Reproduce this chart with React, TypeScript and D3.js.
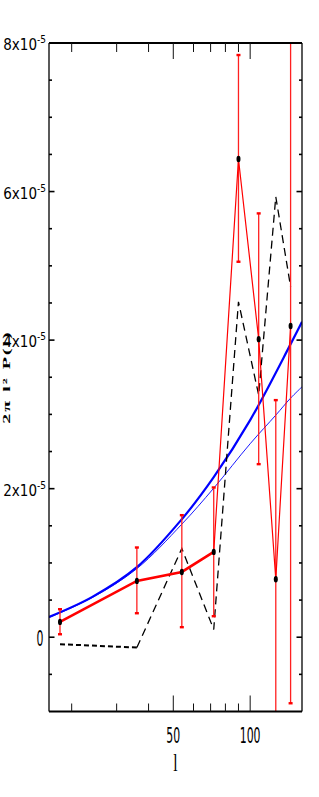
import React from 'react'
import * as d3 from 'd3'

// multipole bins (l) and measured band power, in units of 1e-5
const ells = [18, 36, 54, 72, 90, 108, 126, 144]
const power = [0.206, 0.758, 0.879, 1.149, 6.438, 4.013, 0.781, 4.189]
const errHigh = [0.377, 1.208, 1.643, 2.016, 7.838, 5.706, 3.192, 8.6]
const errLow = [0.04, 0.323, 0.135, 0.283, 5.055, 2.33, -1.5, -0.889]
// dashed model at the same bins
const model = [-0.094, -0.139, 1.194, 0.104, 4.516, 3.259, 5.93, 4.718]

// smooth blue curves
const thickL = [16.3, 24, 36, 54, 72, 100, 144, 159.6]
const thickP = [0.273, 0.54, 0.943, 1.589, 2.155, 2.923, 3.946, 4.246]
const thinL = [16.3, 24, 36, 54, 72, 100, 126, 144, 159.6]
const thinP = [0.263, 0.53, 0.923, 1.522, 2.007, 2.605, 2.99, 3.219, 3.371]

const yMajor = [0, 2, 4, 6, 8]
const yMinor = [-0.5, 0.5, 1, 1.5, 2.5, 3, 3.5, 4.5, 5, 5.5, 6.5, 7, 7.5]
const xMajor = [50, 100]
const xMinor = [20, 30, 40, 60, 70, 80, 90]

const W = 319
const H = 797
const left = 49
const right = 302
const top = 43
const bottom = 711.5

const App = () => {
  const x = d3.scaleLog().domain([16.3, 159.6]).range([left, right])
  const y = d3.scaleLinear().domain([-1, 8]).range([bottom, top])

  const line = d3.line<[number, number]>().x(d => x(d[0])).y(d => y(d[1]))
  const smooth = d3
    .line<[number, number]>()
    .x(d => x(d[0]))
    .y(d => y(d[1]))
    .curve(d3.curveCatmullRom.alpha(0.5))

  const pts = ells.map((l, i) => [l, power[i]] as [number, number])
  const modelPts = ells.map((l, i) => [l, model[i]] as [number, number])
  const thick = thickL.map((l, i) => [l, thickP[i]] as [number, number])
  const thin = thinL.map((l, i) => [l, thinP[i]] as [number, number])

  const narrow = "'Liberation Sans Narrow', 'DejaVu Sans Condensed', sans-serif"

  return (
    <svg width={W} height={H} style={{ position: 'absolute', left: 0, top: 0, background: '#fff' }}>
      <defs>
        <clipPath id="plot">
          <rect x={left} y={top} width={right - left} height={bottom - top} />
        </clipPath>
      </defs>

      <g clipPath="url(#plot)">
        {/* blue curves */}
        <path d={smooth(thin) || ''} fill="none" stroke="#0000ff" strokeWidth={0.9} />
        <path d={smooth(thick) || ''} fill="none" stroke="#0000ff" strokeWidth={2.2} />

        {/* dashed model */}
        <path d={line(modelPts.slice(0, 2)) || ''} fill="none" stroke="#000" strokeWidth={2} strokeDasharray="5,3" />
        <path d={line(modelPts.slice(1)) || ''} fill="none" stroke="#000" strokeWidth={1.3} strokeDasharray="8,5" />

        {/* error bars */}
        {ells.map((l, i) => (
          <g key={'e' + l}>
            <line x1={x(l)} x2={x(l)} y1={y(errHigh[i])} y2={y(errLow[i])} stroke="#ff2020" strokeWidth={1.3} />
            <rect x={x(l) - 2} y={y(errHigh[i]) - 1.2} width={4} height={2.4} fill="#ff0000" />
            <rect x={x(l) - 2} y={y(errLow[i]) - 1.2} width={4} height={2.4} fill="#ff0000" />
          </g>
        ))}

        {/* data lines */}
        <path d={line(pts.slice(3)) || ''} fill="none" stroke="#ff0000" strokeWidth={1.2} />
        <path d={line(pts.slice(0, 4)) || ''} fill="none" stroke="#ff0000" strokeWidth={2.6} />

        {pts.map(p => (
          <ellipse key={'p' + p[0]} cx={x(p[0])} cy={y(p[1])} rx={2} ry={3.2} fill="#000" />
        ))}
      </g>

      {/* frame */}
      <line x1={left} x2={right} y1={top} y2={top} stroke="#000" strokeWidth={2} />
      <line x1={left} x2={right} y1={bottom} y2={bottom} stroke="#000" strokeWidth={2} />
      <line x1={left} x2={left} y1={top} y2={bottom} stroke="#000" strokeWidth={1.3} />
      <line x1={right} x2={right} y1={top} y2={bottom} stroke="#000" strokeWidth={1.3} />

      {/* x ticks */}
      {xMajor.map(t => (
        <g key={'xM' + t} stroke="#111" strokeWidth={1}>
          <line x1={x(t)} x2={x(t)} y1={top} y2={top + 16} />
          <line x1={x(t)} x2={x(t)} y1={bottom} y2={bottom - 16} />
        </g>
      ))}
      {xMinor.map(t => (
        <g key={'xm' + t} stroke="#111" strokeWidth={1}>
          <line x1={x(t)} x2={x(t)} y1={top} y2={top + 9} />
          <line x1={x(t)} x2={x(t)} y1={bottom} y2={bottom - 8} />
        </g>
      ))}

      {/* y ticks */}
      {yMajor.map(t => (
        <g key={'yM' + t} stroke="#000" strokeWidth={1.6}>
          <line x1={left} x2={left + 5.5} y1={y(t)} y2={y(t)} />
          <line x1={right} x2={right - 5.5} y1={y(t)} y2={y(t)} />
        </g>
      ))}
      {yMinor.map(t => (
        <g key={'ym' + t} stroke="#000" strokeWidth={1.6}>
          <line x1={left} x2={left + 3} y1={y(t)} y2={y(t)} />
          <line x1={right} x2={right - 3} y1={y(t)} y2={y(t)} />
        </g>
      ))}

      {/* y tick labels */}
      {yMajor.map(t =>
        t === 0 ? (
          <text key={'yl' + t} transform={`translate(${left - 5.5},${y(t) + 8.5}) scale(0.55,1)`}
            textAnchor="end" fontFamily={narrow} fontSize={22}>0</text>
        ) : (
          <text key={'yl' + t} x={left - 3} y={y(t) + 7} textAnchor="end" fontFamily={narrow} fontSize={15}>
            {t}x10
            <tspan fontSize={10} dy={-7}>-5</tspan>
          </text>
        )
      )}

      {/* x tick labels */}
      {xMajor.map(t => (
        <text key={'xl' + t} transform={`translate(${x(t)},742.5) scale(0.55,1)`}
          textAnchor="middle" fontFamily={narrow} fontSize={22}>{t}</text>
      ))}

      {/* axis titles */}
      <text transform="translate(175.5,771) scale(0.6,1)" textAnchor="middle"
        fontFamily="'Liberation Serif', serif" fontSize={26}>l</text>
      <text transform="translate(10,377) rotate(-90) scale(2,1)" textAnchor="middle"
        fontFamily="'Liberation Serif', serif" fontWeight="bold" fontSize={10} letterSpacing={1}>
        2π l²  P(l)
      </text>
    </svg>
  )
}

export default App
